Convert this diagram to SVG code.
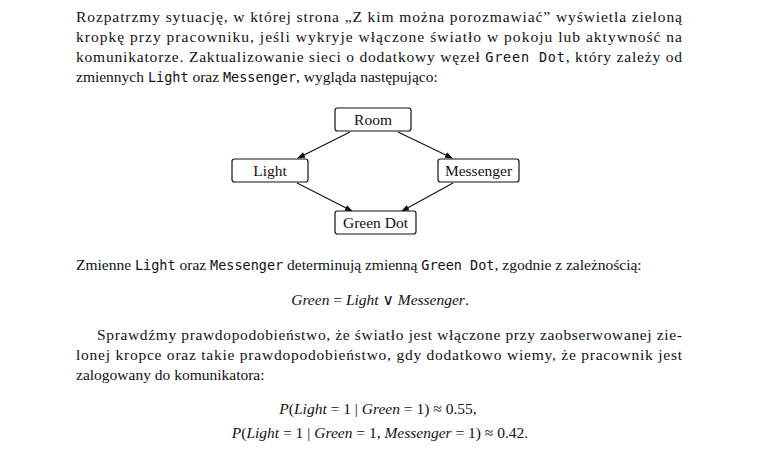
<svg xmlns="http://www.w3.org/2000/svg" width="770" height="456" viewBox="0 0 770 456">
<style>
text{font-family:"Liberation Serif","DejaVu Serif",serif;font-size:15.5px;fill:#111}
.m{font-family:"DejaVu Sans Mono",monospace;font-size:13.5px}
.i{font-style:italic}
.box{fill:#fff;stroke:#111;stroke-width:1.2}
.c line{stroke:#111;stroke-width:1.1;marker-end:url(#a)}
.n text{text-anchor:middle}
</style>
<defs><marker id="a" markerWidth="8" markerHeight="6" refX="7" refY="3" orient="auto" markerUnits="userSpaceOnUse"><path d="M0,0 L8,3 L0,6 Z" fill="#111"/></marker></defs>
<rect width="770" height="456" fill="#fff"/>
<text x="76" y="22" textLength="606" lengthAdjust="spacing">Rozpatrzmy sytuację, w której strona „Z kim można porozmawiać” wyświetla zieloną</text>
<text x="76" y="42" textLength="606" lengthAdjust="spacing">kropkę przy pracowniku, jeśli wykryje włączone światło w pokoju lub aktywność na</text>
<text x="76" y="62" textLength="606" lengthAdjust="spacing">komunikatorze. Zaktualizowanie sieci o dodatkowy węzeł <tspan class="m">Green Dot</tspan>, który zależy od</text>
<text x="76" y="82">zmiennych <tspan class="m">Light</tspan> oraz <tspan class="m">Messenger</tspan>, wygląda następująco:</text>
<g class="c">
<line x1="350" y1="132" x2="298" y2="158"/>
<line x1="398" y1="132" x2="452" y2="158"/>
<line x1="297" y1="183" x2="352" y2="211"/>
<line x1="453" y1="183" x2="402" y2="211"/>
</g>
<g id="room" class="n"><rect class="box" x="335" y="108" width="76" height="23" rx="2.5"/><text x="373" y="125">Room</text></g>
<g id="light" class="n"><rect class="box" x="232" y="159" width="76" height="23" rx="2.5"/><text x="270" y="176">Light</text></g>
<g id="messenger" class="n"><rect class="box" x="438" y="159" width="81" height="23" rx="2.5"/><text x="478.5" y="176">Messenger</text></g>
<g id="greendot" class="n"><rect class="box" x="335" y="211" width="81" height="23" rx="2.5"/><text x="375.5" y="228">Green Dot</text></g>
<text x="76" y="270">Zmienne <tspan class="m">Light</tspan> oraz <tspan class="m">Messenger</tspan> determinują zmienną <tspan class="m">Green Dot</tspan>, zgodnie z zależnością:</text>
<text x="380" y="305" text-anchor="middle"><tspan class="i">Green</tspan> = <tspan class="i">Light</tspan> ∨ <tspan class="i">Messenger</tspan>.</text>
<text x="97" y="340" textLength="585" lengthAdjust="spacing">Sprawdźmy prawdopodobieństwo, że światło jest włączone przy zaobserwowanej zie-</text>
<text x="76" y="360" textLength="606" lengthAdjust="spacing">lonej kropce oraz takie prawdopodobieństwo, gdy dodatkowo wiemy, że pracownik jest</text>
<text x="76" y="380">zalogowany do komunikatora:</text>
<text x="378" y="414" text-anchor="middle"><tspan class="i">P</tspan>(<tspan class="i">Light</tspan> = 1 | <tspan class="i">Green</tspan> = 1) ≈ 0.55,</text>
<text x="380" y="438" text-anchor="middle"><tspan class="i">P</tspan>(<tspan class="i">Light</tspan> = 1 | <tspan class="i">Green</tspan> = 1, <tspan class="i">Messenger</tspan> = 1) ≈ 0.42.</text>
</svg>
